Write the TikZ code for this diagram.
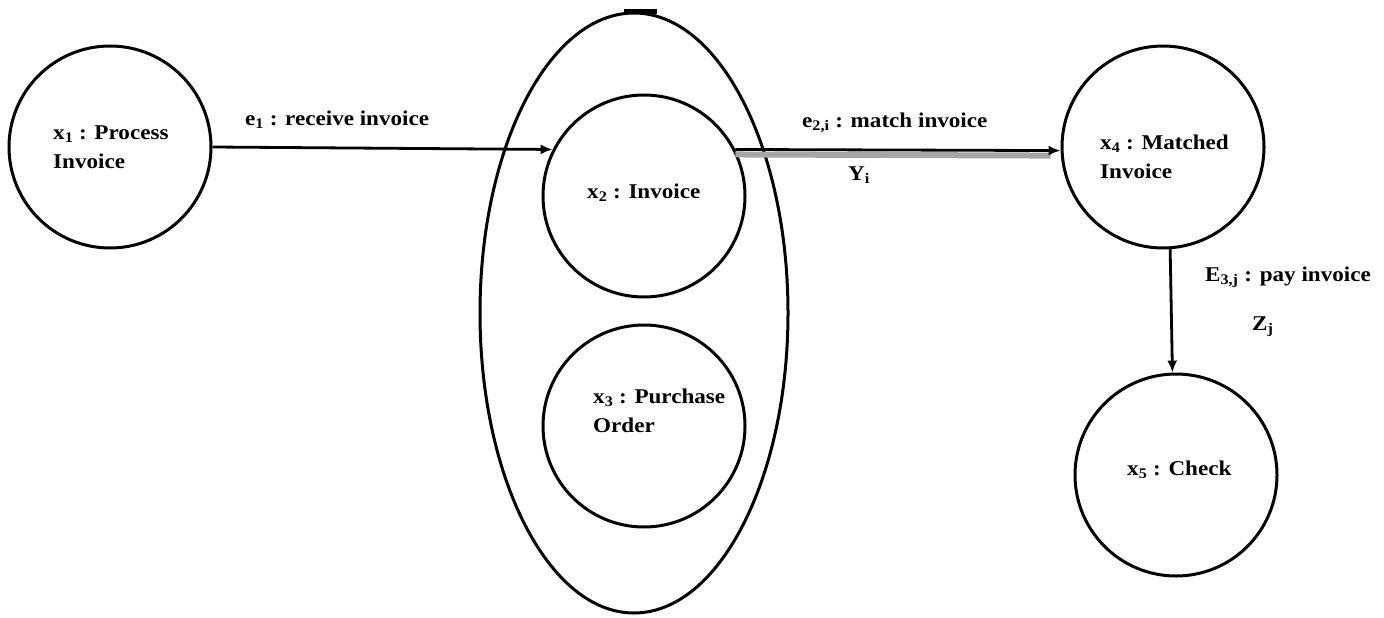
\documentclass[tikz,border=0pt]{standalone}
\usepackage{fontspec}
\setmainfont{Liberation Serif}[FakeStretch=1.1]
\usetikzlibrary{arrows.meta,shapes.geometric}
\begin{document}
\begin{tikzpicture}[x=1pt,y=-1pt,
  state/.style={circle,draw,line width=3pt,minimum size=202pt,inner sep=0pt},
  group/.style={ellipse,draw,line width=3pt,minimum width=308pt,minimum height=600pt,inner sep=0pt},
  lbl/.style={font=\fontsize{21}{29}\selectfont\bfseries,align=left,inner sep=0pt,anchor=west},
  conn/.style={line width=2.8pt,-{Latex[length=12pt,width=10pt]}},
  band/.style={line width=6pt,black!35},
]
\useasboundingbox (0,0) rectangle (1384,618);
% container
\node[group] (grp) at (634,313) {};
\draw[line width=5pt] (624,12) -- (657,12);
% states
\node[state] (x1) at (110,147) {};
\node[state] (x2) at (644,196) {};
\node[state] (x3) at (644,426) {};
\node[state] (x4) at (1163,147) {};
\node[state] (x5) at (1176,475) {};
% state texts
\node[lbl] (t1) at (53,147) {x\textsubscript{1} : Process\\Invoice};
\node[lbl] (t2) at (587,193) {x\textsubscript{2} : Invoice};
\node[lbl] (t3) at (593,411) {x\textsubscript{3} : Purchase\\Order};
\node[lbl] (t4) at (1100,157) {x\textsubscript{4} : Matched\\Invoice};
\node[lbl] (t5) at (1127,470) {x\textsubscript{5} : Check};
% connectors
\draw[conn] (x1.east) -- (x2.153);
\draw[band] ([yshift=-5pt]x2.27) -- ([yshift=-5pt,xshift=-10pt]x4.182);
\draw[conn] (x2.27) -- (x4.182);
\draw[conn] (x4.-86) -- (x5.92);
% connector labels
\node[lbl] (l1) at (245,120) {e\textsubscript{1} : receive invoice};
\node[lbl] (l2) at (802,123) {e\textsubscript{2,i} : match invoice};
\node[lbl] (l2b) at (848,175) {Y\textsubscript{i}};
\node[lbl] (l3) at (1205,277) {E\textsubscript{3,j} : pay invoice};
\node[lbl] (l3b) at (1252,327) {Z\textsubscript{j}};
\end{tikzpicture}
\end{document}
